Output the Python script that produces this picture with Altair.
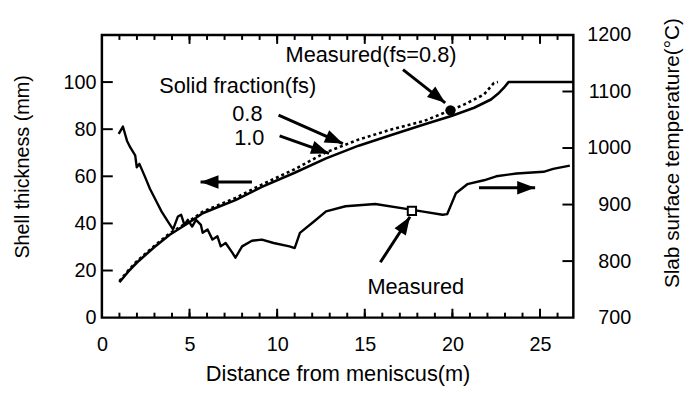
import math
import altair as alt
import pandas as pd

# ---------------- data ----------------
# Shell thickness, fs = 1.0 (solid line), mm
thick10_x = [1.0, 1.5, 2.0, 3.0, 3.87, 5.0, 5.75, 6.7, 7.62, 9.13, 11.0, 12.79, 14.65,
             16.56, 18.42, 19.94, 21.24, 22.2, 22.6, 22.93, 23.2, 26.9]
thick10_y = [15, 19.5, 23.4, 30, 35.2, 40.5, 44.3, 47.2, 49.9, 55.5, 61.5, 67.6, 73,
             77.6, 82.1, 85.6, 89.1, 92.6, 95, 97.5, 100, 100]

# Shell thickness, fs = 0.8 (dotted line), mm
thick08_x = [1.0, 1.5, 2.0, 3.0, 3.87, 5.0, 5.75, 7.62, 9.13, 11.0, 12.79, 14.65, 16.56,
             18.42, 19.89, 20.68, 21.8, 22.37, 22.6]
thick08_y = [15.5, 20, 24, 30.5, 35.8, 41, 45, 50.8, 56.5, 63, 70.2, 75.6, 80,
             83.6, 88, 90.5, 94.7, 99.6, 100]

# Slab surface temperature (right axis), deg C
temp_x = [0.96, 1.2, 1.43, 1.62, 1.9, 1.99, 2.14, 2.46, 2.74, 3.12, 3.4, 3.77, 4.06, 4.34,
          4.52, 4.71, 4.9, 5.15, 5.37, 5.65, 5.75, 6.03, 6.31, 6.59, 6.78, 7.06, 7.44, 7.62,
          8.0, 8.56, 9.13, 9.8, 10.7, 11.0, 11.3, 12.1, 12.79, 13.9, 15.6, 17.46, 18.25,
          19.44, 19.7, 20.2, 20.85, 21.8, 22.5, 23.66, 25.2, 25.75, 26.7]
temp_y = [1025, 1038, 1013, 1001, 987, 966, 972, 949, 928, 905, 888, 870, 856, 879,
          882, 864, 873, 861, 873, 864, 850, 856, 838, 844, 826, 832, 815, 806,
          826, 836, 838, 832, 826, 823, 850, 870, 888, 897, 901, 892, 888,
          882, 883, 920, 936, 943, 950, 955, 958, 963, 969]

# measured points
meas_thick_x = [19.89]
meas_thick_y = [88.0]
meas_temp_x = [17.69]
meas_temp_y = [889]

# annotations (data units: x in m, y in mm)
label_text = ["Measured(fs=0.8)", "Solid fraction(fs)", "0.8", "1.0", "Measured"]
label_x = [10.48, 3.27, 7.44, 7.55, 15.15]
label_y = [111.6, 98.2, 86.4, 76.4, 13.0]

arrow_x1 = [10.08, 10.14, 8.56, 21.52, 17.18, 15.89]
arrow_y1 = [86.0, 77.2, 57.6, 55.1, 105.3, 23.5]
arrow_x2 = [13.75, 12.96, 5.63, 24.72, 19.59, 17.58]
arrow_y2 = [73.9, 69.7, 57.6, 55.1, 91.2, 42.8]

# axes
x_labels = [0, 5, 10, 15, 20, 25]
x_minor_ticks = list(range(1, 27))
x_major_ticks = [5, 10, 15, 20, 25]
left_labels = [0, 20, 40, 60, 80, 100]
left_ticks = [20, 40, 60, 80, 100]
right_labels = [700, 800, 900, 1000, 1100, 1200]
right_ticks = [800, 900, 1000, 1100]

X_DOMAIN = [0, 26.9]
Y_DOMAIN = [0, 120]
T_DOMAIN = [700, 1200]

# ---------------- layout ----------------
W, H = 477, 286
FONT = "Liberation Sans"

xscale = alt.Scale(domain=X_DOMAIN, nice=False, zero=False)
yscale = alt.Scale(domain=Y_DOMAIN, nice=False)
tscale = alt.Scale(domain=T_DOMAIN, nice=False, zero=False)

common_axis = dict(ticks=False, tickSize=0, domain=False, grid=False, labelFlush=False,
                   labelOverlap=False, labelFont=FONT, labelFontSize=20, labelColor="black",
                   titleFont=FONT, titleFontWeight="normal", titleColor="black", format="d")

xaxis = alt.Axis(values=x_labels, labelPadding=17, title="Distance from meniscus(m)",
                 titleFontSize=22, titleY=64, titleBaseline="alphabetic", **common_axis)
yaxis = alt.Axis(values=left_labels, labelPadding=6, title="Shell thickness (mm)",
                 titleFontSize=20, titleX=-80, titleY=133, titleAngle=270,
                 titleAlign="center", titleBaseline="middle", **common_axis)
taxis = alt.Axis(values=right_labels, orient="right", labelAlign="right", labelPadding=58,
                 title="Slab surface temperature(°C)", titleFontSize=21, titleX=100,
                 titleY=119, titleAngle=270, titleAlign="center", titleBaseline="middle",
                 **common_axis)


def X(f):
    return alt.X(f"{f}:Q", scale=xscale, axis=xaxis)


def Y(f):
    return alt.Y(f"{f}:Q", scale=yscale, axis=yaxis)


def T(f):
    return alt.Y(f"{f}:Q", scale=tscale, axis=taxis)


df10 = pd.DataFrame({"x": thick10_x, "y": thick10_y})
df08 = pd.DataFrame({"x": thick08_x, "y": thick08_y})
dft = pd.DataFrame({"x": temp_x, "t": temp_y})
dfm1 = pd.DataFrame({"x": meas_thick_x, "y": meas_thick_y})
dfm2 = pd.DataFrame({"x": meas_temp_x, "t": meas_temp_y})
dflab = pd.DataFrame({"x": label_x, "y": label_y, "label": label_text})

sx = W / (X_DOMAIN[1] - X_DOMAIN[0])
sy = H / (Y_DOMAIN[1] - Y_DOMAIN[0])
angles = [math.degrees(math.atan2(-(b2 - b1) * sy, (a2 - a1) * sx)) % 360
          for a1, b1, a2, b2 in zip(arrow_x1, arrow_y1, arrow_x2, arrow_y2)]
dfarr = pd.DataFrame({"x": arrow_x1, "y": arrow_y1, "x2": arrow_x2, "y2": arrow_y2,
                      "ang": angles})

line10 = alt.Chart(df10).mark_line(color="black", strokeWidth=2.6, strokeJoin="round").encode(
    x=X("x"), y=Y("y"))
line08 = alt.Chart(df08).mark_line(color="black", strokeWidth=2.6, strokeDash=[3, 3]).encode(
    x=X("x"), y=Y("y"))
circle = alt.Chart(dfm1).mark_point(shape="circle", filled=True, color="black", size=110,
                                    opacity=1).encode(x=X("x"), y=Y("y"))
shafts = alt.Chart(dfarr).mark_rule(color="black", strokeWidth=3).encode(
    x=X("x"), y=Y("y"), x2="x2:Q", y2="y2:Q")
heads = alt.Chart(dfarr).mark_point(shape="M0,0L-2,-0.75L-2,0.75Z", filled=True,
                                    color="black", size=330, opacity=1,
                                    strokeWidth=0).encode(
    x=X("x2"), y=Y("y2"), angle=alt.Angle("ang:Q", scale=None))
texts = alt.Chart(dflab).mark_text(align="left", baseline="middle", font=FONT, fontSize=22,
                                   color="black").encode(x=X("x"), y=Y("y"), text="label:N")

lt = alt.Chart(pd.DataFrame({"v": left_ticks})).mark_rule(color="black", strokeWidth=2).encode(
    y=Y("v"), x=alt.value(0), x2=alt.value(11))
dminor = pd.DataFrame({"v": x_minor_ticks})
dmajor = pd.DataFrame({"v": x_major_ticks})
bmin = alt.Chart(dminor).mark_rule(color="black", strokeWidth=2).encode(
    x=X("v"), y=alt.value(H), y2=alt.value(H - 5))
bmaj = alt.Chart(dmajor).mark_rule(color="black", strokeWidth=2).encode(
    x=X("v"), y=alt.value(H), y2=alt.value(H - 9))
tmin = alt.Chart(dminor).mark_rule(color="black", strokeWidth=2).encode(
    x=X("v"), y=alt.value(0), y2=alt.value(5))
tmaj = alt.Chart(dmajor).mark_rule(color="black", strokeWidth=2).encode(
    x=X("v"), y=alt.value(0), y2=alt.value(9))

left = alt.layer(line10, line08, circle, shafts, heads, texts, lt, bmin, bmaj, tmin, tmaj)

templine = alt.Chart(dft).mark_line(color="black", strokeWidth=2.4, strokeJoin="round").encode(
    x=X("x"), y=T("t"))
square = alt.Chart(dfm2).mark_point(shape="square", fill="white", stroke="black",
                                    strokeWidth=2, size=70, opacity=1).encode(
    x=X("x"), y=T("t"))
rt = alt.Chart(pd.DataFrame({"v": right_ticks})).mark_rule(color="black", strokeWidth=2).encode(
    y=T("v"), x=alt.value(W - 11), x2=alt.value(W))

right = alt.layer(templine, square, rt)

chart = alt.layer(left, right).resolve_scale(y="independent").properties(
    width=W, height=H,
    padding={"left": 95, "top": 25, "right": 114, "bottom": 76},
    autosize=alt.AutoSizeParams(type="none"),
).configure_view(stroke="black", strokeWidth=2.5)

chart.save("out.html", embed_options={"renderer": "svg", "actions": False})
